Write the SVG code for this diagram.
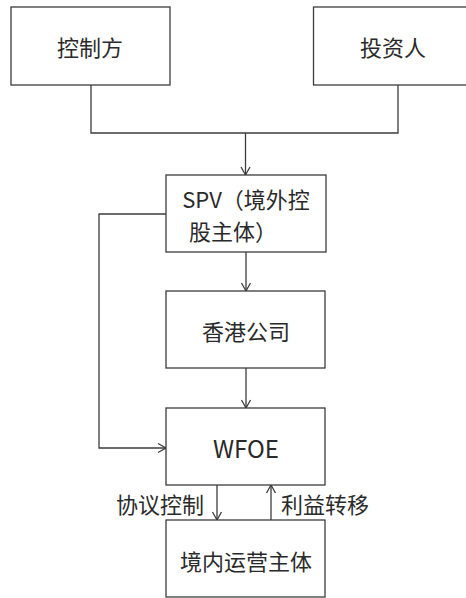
<svg xmlns="http://www.w3.org/2000/svg" width="466" height="598" viewBox="0 0 466 598">
<defs>
<style>
.box{fill:#fff;stroke:#3c3c3c;stroke-width:1.3}
.t{font-family:"Microsoft YaHei","Noto Sans CJK SC","Noto Sans",sans-serif;font-size:22px;fill:#2a2a2a;text-anchor:middle;dominant-baseline:central}
.c{fill:none;stroke:#3c3c3c;stroke-width:1.3}
</style>
<marker id="ah" markerWidth="12" markerHeight="12" refX="10" refY="6" orient="auto" markerUnits="userSpaceOnUse">
<path d="M2,1.5 L10,6 L2,10.5" fill="none" stroke="#3c3c3c" stroke-width="1.3"/>
</marker>
</defs>
<rect width="466" height="598" fill="#fff"/>
<g id="connectors">
<path class="c" d="M91,85 V133 H398 V85"/>
<path class="c" d="M245.5,133 V175" marker-end="url(#ah)"/>
<path class="c" d="M246,252 V291" marker-end="url(#ah)"/>
<path class="c" d="M246,368 V408" marker-end="url(#ah)"/>
<path class="c" d="M166,214 H99 V448 H166" marker-end="url(#ah)"/>
<path class="c" d="M217,485 V520" marker-end="url(#ah)"/>
<path class="c" d="M271,520 V485" marker-end="url(#ah)"/>
</g>
<g id="n1"><rect class="box" x="11" y="7" width="159" height="78"/><text class="t" x="90" y="46">控制方</text></g>
<g id="n2"><rect class="box" x="313.5" y="7" width="160" height="78"/><text class="t" x="393" y="46">投资人</text></g>
<g id="n3"><rect class="box" x="166" y="175" width="160" height="77"/><text class="t" x="246" y="198">SPV（境外控</text><text class="t" x="189" y="230" style="text-anchor:start">股主体）</text></g>
<g id="n4"><rect class="box" x="166" y="291" width="159" height="77"/><text class="t" x="246" y="330">香港公司</text></g>
<g id="n5"><rect class="box" x="166" y="408" width="159" height="77"/><text class="t" x="246" y="447" style="font-size:24px">WFOE</text></g>
<g id="n6"><rect class="box" x="166" y="520" width="159" height="77"/><text class="t" x="246" y="560">境内运营主体</text></g>
<g id="labels">
<text class="t" x="160" y="503">协议控制</text>
<text class="t" x="325" y="503">利益转移</text>
</g>
</svg>
